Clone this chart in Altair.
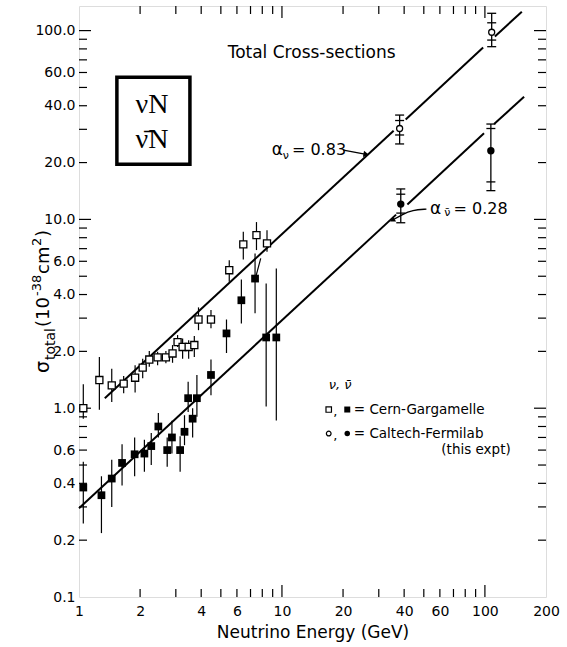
import altair as alt
import pandas as pd

FONT = "DejaVu Sans"
SERIF = "Liberation Serif"

# ---------------- data ----------------
# Cern-Gargamelle, neutrino (open squares)
cgn_E = [1.05, 1.26, 1.45, 1.66, 1.89, 2.06, 2.22, 2.44, 2.68, 2.89, 3.06, 3.24, 3.47, 3.70, 3.88, 4.47, 5.50, 6.45, 7.49, 8.44]
cgn_s = [1.00, 1.41, 1.32, 1.35, 1.45, 1.64, 1.81, 1.86, 1.86, 1.95, 2.24, 2.11, 2.11, 2.16, 2.95, 2.95, 5.38, 7.37, 8.26, 7.47]
cgn_lo = [0.88, 0.98, 1.08, 1.20, 1.21, 1.44, 1.66, 1.69, 1.73, 1.74, 2.11, 1.83, 1.83, 1.87, 2.59, 2.65, 4.67, 6.14, 6.88, 6.73]
cgn_hi = [1.34, 1.87, 1.62, 1.48, 1.69, 1.83, 2.01, 1.99, 2.01, 2.16, 2.44, 2.34, 2.29, 2.41, 3.42, 3.31, 6.08, 8.60, 9.68, 8.77]

# Cern-Gargamelle, antineutrino (filled squares)
cga_E = [1.05, 1.29, 1.45, 1.63, 1.88, 2.10, 2.27, 2.46, 2.72, 2.87, 3.15, 3.31, 3.45, 3.63, 3.81, 4.47, 5.33, 6.31, 7.37, 8.36, 9.38]
cga_s = [0.38, 0.346, 0.424, 0.513, 0.57, 0.575, 0.63, 0.80, 0.60, 0.70, 0.60, 0.75, 1.13, 0.88, 1.13, 1.50, 2.49, 3.73, 4.86, 2.37, 2.37]
cga_lo = [0.245, 0.218, 0.30, 0.39, 0.436, 0.46, 0.50, 0.70, 0.49, 0.575, 0.46, 0.637, 0.956, 0.70, 0.90, 1.17, 1.96, 2.81, 3.18, 1.02, 0.86]
cga_hi = [0.52, 0.436, 0.534, 0.645, 0.70, 0.68, 0.74, 0.944, 0.70, 0.857, 0.71, 0.918, 1.38, 1.00, 1.50, 1.81, 2.95, 4.81, 6.60, 4.58, 5.50]

# Caltech-Fermilab (this expt): neutrino (open circles), antineutrino (filled circles)
cfn_E = [38.0, 108.0]
cfn_s = [30.3, 98.0]
cfn_in_lo = [28.0, 89.1]
cfn_in_hi = [33.4, 110.0]
cfn_out_lo = [25.1, 82.2]
cfn_out_hi = [35.7, 123.5]

cfa_E = [38.5, 107.0]
cfa_s = [12.05, 23.1]
cfa_in_lo = [10.8, 15.8]
cfa_in_hi = [13.6, 30.3]
cfa_out_lo = [9.6, 14.2]
cfa_out_hi = [14.5, 32.0]

# fitted lines (drawn in pieces, broken around the Caltech points)
nu_line_E1 = [1.34, 40.7, 112.0]
nu_line_E2 = [35.5, 98.0, 152.0]
nu_line_s1 = [1.13, 33.8, 93.0]
nu_line_s2 = [29.5, 81.3, 126.0]

nb_line_E1 = [1.0, 41.5, 111.0]
nb_line_E2 = [36.5, 99.0, 156.0]
nb_line_s1 = [0.295, 12.0, 32.0]
nb_line_s2 = [10.6, 28.6, 44.6]

# axis labels and ticks
x_label_vals = [1, 2, 4, 6, 10, 20, 40, 60, 100, 200]
y_label_vals = [0.1, 0.2, 0.4, 0.6, 1, 2, 4, 6, 10, 20, 40, 60, 100]
x_minor = [2, 3, 4, 5, 6, 7, 8, 9, 20, 30, 40, 50, 60, 70, 80, 90]
x_major = [10, 100]
y_minor = [0.2, 0.3, 0.4, 0.5, 0.6, 0.7, 0.8, 0.9, 2, 3, 4, 5, 6, 7, 8, 9, 20, 30, 40, 50, 60, 70, 80, 90]
y_major = [1, 10, 100]

# y-axis title pieces: text, font size, role (main / sub / sup)
ytitle_txt = ["σ", "total", "(10", "-38", "cm", "2", ")"]
ytitle_size = [19, 14, 18, 13, 18, 13, 18]
ytitle_role = ["main", "sub", "main", "sup", "main", "sup", "main"]
ytitle_pos = [373, 360, 327, 296, 274, 246, 237]

# ---------------- chart ----------------
W, H = 467, 591
x_scale = alt.Scale(type="log", domain=[1, 200], nice=False)
y_scale = alt.Scale(type="log", domain=[0.1, 135], nice=False)

ax_x = alt.Axis(values=x_label_vals, format=".0f", title="Neutrino Energy (GeV)", grid=False,
                domain=False, ticks=False, tickSize=0, labelPadding=7, labelFont=FONT,
                labelFontSize=14, labelColor="black", titleFont=FONT, titleFontSize=17,
                titleFontWeight="normal", titleColor="black", titlePadding=6,
                labelFlush=False, labelOverlap=False)
ax_y = alt.Axis(values=y_label_vals, format=".1f", title=None, grid=False,
                domain=False, ticks=False, tickSize=0, labelPadding=4, labelFont=FONT,
                labelFontSize=14, labelColor="black", labelFlush=False, labelOverlap=False)


def X(f):
    return alt.X(f, type="quantitative", scale=x_scale, axis=ax_x)


def Y(f):
    return alt.Y(f, type="quantitative", scale=y_scale, axis=ax_y)


layers = []

# inward ticks on all four sides
for vals, L in [(x_minor, 8), (x_major, 12)]:
    d = pd.DataFrame({"v": vals})
    layers.append(alt.Chart(d).mark_rule(color="black", strokeWidth=1.2).encode(
        x=X("v"), y=alt.value(H), y2=alt.value(H - L)))
    layers.append(alt.Chart(d).mark_rule(color="black", strokeWidth=1.2).encode(
        x=X("v"), y=alt.value(0), y2=alt.value(L)))
for vals, L in [(y_minor, 8), (y_major, 12)]:
    d = pd.DataFrame({"v": vals})
    layers.append(alt.Chart(d).mark_rule(color="black", strokeWidth=1.2).encode(
        y=Y("v"), x=alt.value(0), x2=alt.value(L)))
    layers.append(alt.Chart(d).mark_rule(color="black", strokeWidth=1.2).encode(
        y=Y("v"), x=alt.value(W), x2=alt.value(W - L)))

# fit lines
lines = pd.DataFrame({"E1": nu_line_E1 + nb_line_E1, "E2": nu_line_E2 + nb_line_E2,
                      "s1": nu_line_s1 + nb_line_s1, "s2": nu_line_s2 + nb_line_s2})
layers.append(alt.Chart(lines).mark_rule(color="black", strokeWidth=2).encode(
    x=X("E1"), x2="E2", y=Y("s1"), y2="s2"))

# Cern-Gargamelle error bars and markers
cgn = pd.DataFrame({"E": cgn_E, "s": cgn_s, "lo": cgn_lo, "hi": cgn_hi})
cga = pd.DataFrame({"E": cga_E, "s": cga_s, "lo": cga_lo, "hi": cga_hi})
for d in (cgn, cga):
    layers.append(alt.Chart(d).mark_rule(color="black", strokeWidth=1.2).encode(
        x=X("E"), y=Y("lo"), y2="hi"))
layers.append(alt.Chart(cgn).mark_point(shape="square", filled=True, fill="white", stroke="black",
                                        strokeWidth=1.3, size=50, opacity=1).encode(x=X("E"), y=Y("s")))
layers.append(alt.Chart(cga).mark_point(shape="square", filled=True, color="black", size=60,
                                        opacity=1).encode(x=X("E"), y=Y("s")))

# Caltech-Fermilab error bars with two sets of caps
cf = pd.DataFrame({"E": cfn_E + cfa_E, "s": cfn_s + cfa_s,
                   "ilo": cfn_in_lo + cfa_in_lo, "ihi": cfn_in_hi + cfa_in_hi,
                   "olo": cfn_out_lo + cfa_out_lo, "ohi": cfn_out_hi + cfa_out_hi,
                   "kind": ["nu", "nu", "nb", "nb"]})
layers.append(alt.Chart(cf).mark_rule(color="black", strokeWidth=1.3).encode(
    x=X("E"), y=Y("olo"), y2="ohi"))
for col in ["ilo", "ihi", "olo", "ohi"]:
    layers.append(alt.Chart(cf).mark_tick(orient="horizontal", color="black", size=9,
                                          thickness=1.3, opacity=1).encode(x=X("E"), y=Y(col)))
layers.append(alt.Chart(cf).transform_filter("datum.kind == 'nu'").mark_point(
    shape="circle", filled=True, fill="white", stroke="black", strokeWidth=1.3, size=36,
    opacity=1).encode(x=X("E"), y=Y("s")))
layers.append(alt.Chart(cf).transform_filter("datum.kind == 'nb'").mark_point(
    shape="circle", filled=True, color="black", size=55, opacity=1).encode(x=X("E"), y=Y("s")))

# small connector near 7-8 GeV
conn = pd.DataFrame({"E1": [7.43], "E2": [7.86], "s1": [4.96], "s2": [6.21]})
layers.append(alt.Chart(conn).mark_rule(color="black", strokeWidth=1.2).encode(
    x=X("E1"), x2="E2", y=Y("s1"), y2="s2"))


# ---- annotations ----
def txt(E, s, t, size=15, font=FONT, align="left", style="normal"):
    d = pd.DataFrame({"E": [E], "s": [s], "t": [t]})
    return alt.Chart(d).mark_text(font=font, fontSize=size, align=align, baseline="middle",
                                  color="black", fontStyle=style).encode(
        x=X("E"), y=Y("s"), text="t:N")


layers.append(txt(14.0, 76.0, "Total Cross-sections", size=17, align="center"))

# box with nu N / nubar N
box = pd.DataFrame({"E1": [1.537], "E2": [3.52], "s1": [19.6], "s2": [56.6]})
layers.append(alt.Chart(box).mark_rect(fillOpacity=0, stroke="black", strokeWidth=3.5).encode(
    x=X("E1"), x2="E2", y=Y("s1"), y2="s2"))
layers.append(txt(2.29, 40.3, "νN", size=28, font=SERIF, align="center"))
layers.append(txt(2.29, 26.3, "ν\u0304N", size=28, font=SERIF, align="center"))

# alpha_nu label + arrow
layers.append(txt(8.9, 23.3, "α", size=17))
layers.append(txt(10.1, 21.6, "ν", size=11))
layers.append(txt(11.2, 23.3, "= 0.83", size=16))
arr = pd.DataFrame({"E1": [20.1], "E2": [26.0], "s1": [23.3], "s2": [22.1]})
layers.append(alt.Chart(arr).mark_rule(color="black", strokeWidth=1.3).encode(
    x=X("E1"), x2="E2", y=Y("s1"), y2="s2"))
head = pd.DataFrame({"E": [26.0], "s": [22.1]})
layers.append(alt.Chart(head).mark_point(shape="triangle-right", filled=True, color="black",
                                         size=40, angle=10, opacity=1).encode(x=X("E"), y=Y("s")))

# alpha_nubar label + curved arrow
layers.append(txt(53.7, 11.4, "α", size=17))
layers.append(txt(63.1, 10.8, "ν\u0304", size=11))
layers.append(txt(70.0, 11.4, "= 0.28", size=16))
curve = pd.DataFrame({"E": [51.5, 44.0, 39.0, 35.0], "s": [11.34, 11.2, 10.6, 9.9], "o": [0, 1, 2, 3]})
layers.append(alt.Chart(curve).mark_line(color="black", strokeWidth=1.3, interpolate="basis").encode(
    x=X("E"), y=Y("s"), order="o:Q"))
head2 = pd.DataFrame({"E": [35.0], "s": [9.9]})
layers.append(alt.Chart(head2).mark_point(shape="triangle-left", filled=True, color="black",
                                          size=35, angle=330, opacity=1).encode(x=X("E"), y=Y("s")))

# legend text
layers.append(txt(17.0, 1.32, "ν, ν\u0304", size=13, style="italic"))
leg_sym = pd.DataFrame({"E": [17.0, 20.98], "s": [0.984, 0.984]})
layers.append(alt.Chart(leg_sym.iloc[[0]]).mark_point(shape="square", filled=True, fill="white",
                                                     stroke="black", strokeWidth=1.2, size=30,
                                                     opacity=1).encode(x=X("E"), y=Y("s")))
layers.append(alt.Chart(leg_sym.iloc[[1]]).mark_point(shape="square", filled=True, color="black",
                                                     size=36, opacity=1).encode(x=X("E"), y=Y("s")))
leg_circ = pd.DataFrame({"E": [17.0, 20.98], "s": [0.734, 0.734]})
layers.append(alt.Chart(leg_circ.iloc[[0]]).mark_point(shape="circle", filled=True, fill="white",
                                                      stroke="black", strokeWidth=1.2, size=22,
                                                      opacity=1).encode(x=X("E"), y=Y("s")))
layers.append(alt.Chart(leg_circ.iloc[[1]]).mark_point(shape="circle", filled=True, color="black",
                                                      size=30, opacity=1).encode(x=X("E"), y=Y("s")))
layers.append(txt(17.9, 0.95, ",", size=13))
layers.append(txt(17.9, 0.71, ",", size=13))
layers.append(txt(22.6, 0.984, "= Cern-Gargamelle", size=13.5))
layers.append(txt(22.6, 0.734, "= Caltech-Fermilab", size=13.5))
layers.append(txt(61.0, 0.599, "(this expt)", size=13.5))

# rotated y-axis title built from pieces (subscript / superscript)
role_dx = {"main": -30, "sub": -24, "sup": -38}
for t, sz, role, pos in zip(ytitle_txt, ytitle_size, ytitle_role, ytitle_pos):
    d = pd.DataFrame({"t": [t]})
    layers.append(alt.Chart(d).mark_text(font=FONT, fontSize=sz, angle=270, align="left",
                                         baseline="alphabetic", color="black").encode(
        x=alt.value(role_dx[role]), y=alt.value(pos - 6), text="t:N"))

chart = alt.layer(*layers).properties(
    width=W, height=H,
    autosize=alt.AutoSizeParams(type="none"),
    padding={"left": 79, "top": 6, "right": 21, "bottom": 50},
).configure_view(stroke="black", strokeWidth=2).configure(background="white")

chart.save("out.html", embed_options={"renderer": "svg", "actions": False})
